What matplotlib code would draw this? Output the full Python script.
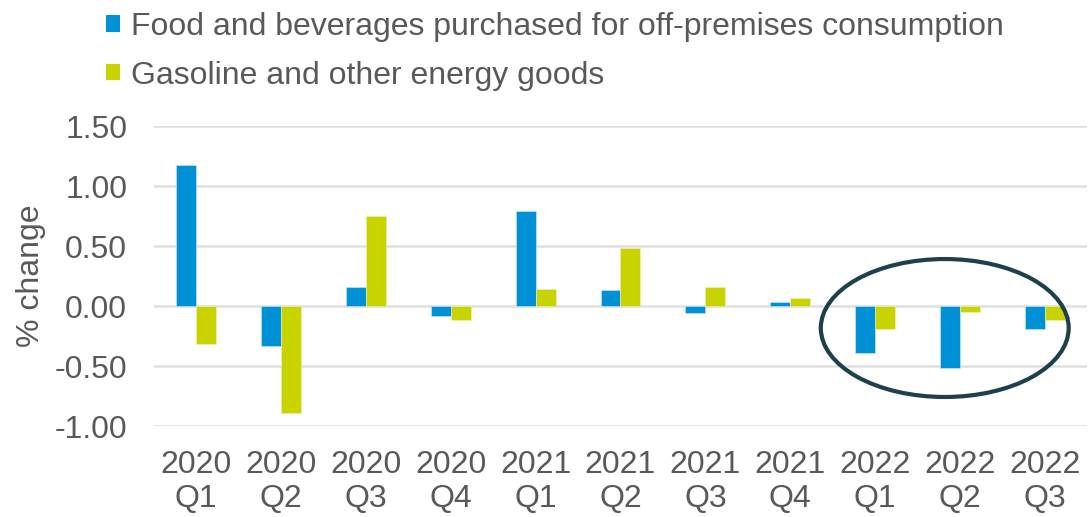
import matplotlib
matplotlib.use("Agg")
import matplotlib.pyplot as plt
from matplotlib.patches import Patch, Ellipse
import numpy as np

plt.rcParams['font.family'] = ['Liberation Sans', 'DejaVu Sans']

categories = ["2020\nQ1", "2020\nQ2", "2020\nQ3", "2020\nQ4", "2021\nQ1", "2021\nQ2",
              "2021\nQ3", "2021\nQ4", "2022\nQ1", "2022\nQ2", "2022\nQ3"]
food = [1.18, -0.33, 0.16, -0.08, 0.79, 0.13, -0.06, 0.03, -0.39, -0.52, -0.19]
gasoline = [-0.32, -0.89, 0.75, -0.12, 0.14, 0.48, 0.16, 0.07, -0.19, -0.05, -0.12]
series_names = ["Food and beverages purchased for off-premises consumption",
                "Gasoline and other energy goods"]
yticks = [-1.0, -0.5, 0.0, 0.5, 1.0, 1.5]

blue = "#0090D5"
green = "#C8D300"
grey = "#595959"
fs = 23

fig = plt.figure(figsize=(10.89, 5.17), dpi=100)
ax = fig.add_axes([0.141, 0.176, 0.8575, 0.580])

x = np.arange(len(categories))
w = 0.235
ax.bar(x - w / 2, food, w, color=blue, edgecolor="#cfeaf7", linewidth=0.4, zorder=3)
ax.bar(x + w / 2, gasoline, w, color=green, edgecolor="#eef2c0", linewidth=0.4, zorder=3)

ax.set_xlim(-0.5, len(categories) - 0.5)
ax.set_ylim(-1.0, 1.5)
ax.set_yticks(yticks)
ax.set_yticklabels([f"{v:.2f}" for v in yticks])
ax.set_xticks(x)
ax.set_xticklabels(categories, linespacing=1.2)
ax.tick_params(axis='both', length=0, labelsize=fs, colors=grey)
ax.tick_params(axis='y', pad=19)
ax.tick_params(axis='x', pad=17)
ax.yaxis.grid(True, color="#e0e0e0", linewidth=1.8, zorder=0)
ax.set_axisbelow(True)
for s in ax.spines.values():
    s.set_visible(False)
ax.set_ylabel("% change", fontsize=fs, color=grey)
ax.yaxis.set_label_coords(-0.115, 0.5)

# highlight ellipse
ell = Ellipse((8.82, -0.183), 2.92, 1.15, fill=False, edgecolor="#1E3F4C",
              linewidth=3, zorder=5, clip_on=False)
ax.add_patch(ell)

handles = [Patch(facecolor=blue), Patch(facecolor=green)]
fig.legend(handles, series_names, loc="upper left", bbox_to_anchor=(0.077, 1.02),
           frameon=False, fontsize=fs, labelcolor=grey, handlelength=0.42,
           handleheight=0.42, handletextpad=0.35, labelspacing=0.58, borderaxespad=0.3)

fig.savefig("out.png", dpi=100)
